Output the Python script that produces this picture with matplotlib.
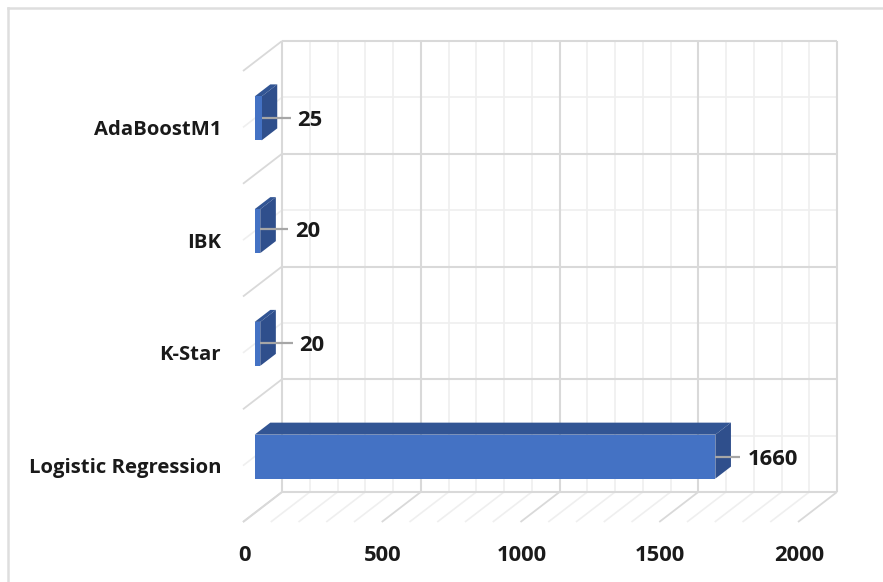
import matplotlib
matplotlib.use('Agg')
import matplotlib.pyplot as plt
from matplotlib.patches import Polygon

W, H = 883, 582

categories = ['Logistic Regression', 'K-Star', 'IBK', 'AdaBoostM1']
values = [1660, 20, 20, 25]
xticks = [0, 500, 1000, 1500, 2000]
minor_step = 100

# pixel layout of the 3D box
x0_px, x_scale = 243.0, 0.2775
floor_px, band_px = 522.0, 112.75
depth_x, depth_y = 39.0, 30.0

BLUE_FRONT = '#4472c4'
BLUE_TOP = '#325594'
BLUE_SIDE = '#2f4f8c'
GRID_MAJOR = '#d9d9d9'
GRID_MINOR = '#efefef'
TEXT = '#1a1a1a'

plt.rcParams['font.family'] = ['Open Sans', 'DejaVu Sans']

fig = plt.figure(figsize=(W / 100, H / 100), dpi=100, facecolor='white')
ax = fig.add_axes([0, 0, 1, 1])
# x is in chart units, y in category bands, same linear scale as the pixels
ax.set_xlim(-x0_px / x_scale, (W - x0_px) / x_scale)
ax.set_ylim((floor_px - H) / band_px, floor_px / band_px)
ax.axis('off')


def proj(v, c, d=0.0):
    # d = 0 is the front of the floor, d = 1 the back wall
    return (v + d * depth_x / x_scale, c + d * depth_y / band_px)


def seg(p, q, color, lw, z=1):
    ax.plot([p[0], q[0]], [p[1], q[1]], color=color, lw=lw, zorder=z,
            solid_capstyle='butt')


xmax = xticks[-1]
n = len(categories)

# minor grid first so the major lines sit on top
for v in range(0, xmax + 1, minor_step):
    if v in xticks:
        continue
    seg(proj(v, 0, 0), proj(v, 0, 1), GRID_MINOR, 1.2)
    seg(proj(v, 0, 1), proj(v, n, 1), GRID_MINOR, 1.2)
for i in range(n):
    c = i + 0.5
    seg(proj(0, c, 0), proj(0, c, 1), GRID_MINOR, 1.2)
    seg(proj(0, c, 1), proj(xmax, c, 1), GRID_MINOR, 1.2)

for v in xticks:
    seg(proj(v, 0, 0), proj(v, 0, 1), GRID_MAJOR, 1.3, 2)
    seg(proj(v, 0, 1), proj(v, n, 1), GRID_MAJOR, 1.5, 2)
for i in range(n + 1):
    seg(proj(0, i, 0), proj(0, i, 1), GRID_MAJOR, 1.3, 2)
    seg(proj(0, i, 1), proj(xmax, i, 1), GRID_MAJOR, 1.5, 2)

# bars
d_front, d_back = 0.30, 0.70
half = 0.195
for i, v in enumerate(values):
    c = i + 0.5
    lo, hi = c - half, c + half
    top = [proj(0, hi, d_front), proj(v, hi, d_front), proj(v, hi, d_back), proj(0, hi, d_back)]
    side = [proj(v, lo, d_front), proj(v, hi, d_front), proj(v, hi, d_back), proj(v, lo, d_back)]
    front = [proj(0, lo, d_front), proj(v, lo, d_front), proj(v, hi, d_front), proj(0, hi, d_front)]
    ax.add_patch(Polygon(top, closed=True, fc=BLUE_TOP, ec='none', zorder=3))
    ax.add_patch(Polygon(side, closed=True, fc=BLUE_SIDE, ec='none', zorder=3))
    ax.add_patch(Polygon(front, closed=True, fc=BLUE_FRONT, ec='none', zorder=4))

# leader lines and value labels, offsets in pixels from the bar's front right edge
leader_end = [25, 33, 28, 29]
label_gap = [32, 39, 35, 36]
leader_rise = [0, 1, 2, 0]
for i, v in enumerate(values):
    x, y = proj(v, i + 0.5, d_front)
    y += leader_rise[i] / band_px
    seg((x, y), (x + leader_end[i] / x_scale, y), '#a6a6a6', 1.6, 5)
    ax.text(x + label_gap[i] / x_scale, y, str(v), ha='left', va='center_baseline',
            fontsize=15.8, fontweight='bold', color=TEXT, zorder=6)

for i, name in enumerate(categories):
    ax.text(-22 / x_scale, i + 0.5, name, ha='right', va='center_baseline',
            fontsize=14.6, fontweight='bold', color=TEXT)

for v in xticks:
    ax.text(v + 1 / x_scale, -31 / band_px, str(v), ha='center', va='center_baseline',
            fontsize=15.8, fontweight='bold', color=TEXT)

# frame lines along the top and left of the chart area
ax.plot([8 / W, 8 / W], [0, 1 - 8 / H], transform=fig.transFigure, color='#dedede', lw=1.8)
ax.plot([8 / W, 1], [1 - 8 / H, 1 - 8 / H], transform=fig.transFigure, color='#dedede', lw=1.8)

fig.savefig('out.png', dpi=100, facecolor='white')
